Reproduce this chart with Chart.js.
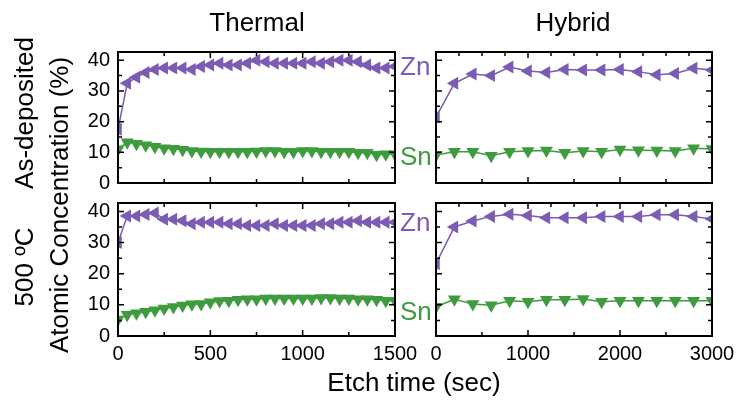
<!DOCTYPE html>
<html>
<head>
<meta charset="utf-8">
<script src="https://cdn.jsdelivr.net/npm/chart.js@4.4.1/dist/chart.umd.min.js"></script>
<style>
  body { margin: 0; background: #fff; }
  #wrap { position: relative; width: 738px; height: 404px; overflow: hidden; font-family: "Liberation Sans", Arial, Helvetica, sans-serif; color: #000; }
  canvas { position: absolute; }
  .lbl { position: absolute; font-size: 26px; line-height: 1; white-space: nowrap; transform: translate(-50%, -50%); }
  .rot { transform: translate(-50%, -50%) rotate(-90deg); }
  .tag { position: absolute; font-size: 26px; line-height: 1; white-space: nowrap; transform: translateY(-50%); }
</style>
</head>
<body>
<div id="wrap">
  <canvas id="thermalAs" width="365" height="186" style="left:70px;top:22px"></canvas>
  <canvas id="hybridAs" width="336" height="186" style="left:416px;top:22px"></canvas>
  <canvas id="thermal500" width="365" height="203" style="left:70px;top:173px"></canvas>
  <canvas id="hybrid500" width="336" height="203" style="left:416px;top:173px"></canvas>

  <div class="lbl" style="left:257px;top:22px">Thermal</div>
  <div class="lbl" style="left:573px;top:22px">Hybrid</div>
  <div class="lbl" style="left:414px;top:382px">Etch time (sec)</div>
  <div class="lbl rot" style="left:59px;top:205px">Atomic Concentration (%)</div>
  <div class="lbl rot" style="left:24px;top:113px">As-deposited</div>
  <div class="lbl rot" style="left:24px;top:267px">500 ºC</div>

  <div class="tag" style="left:400px;top:66px;color:#7b5bb3">Zn</div>
  <div class="tag" style="left:400px;top:156px;color:#3e9b3e">Sn</div>
  <div class="tag" style="left:400px;top:222px;color:#7b5bb3">Zn</div>
  <div class="tag" style="left:400px;top:311px;color:#3e9b3e">Sn</div>
</div>
<script>
// etch time (sec)
const thermalTime = [0, 50, 100, 150, 200, 250, 300, 350, 400, 450, 500, 550, 600, 650, 700, 750,
  800, 850, 900, 950, 1000, 1050, 1100, 1150, 1200, 1250, 1300, 1350, 1400, 1450, 1500];
const hybridTime = [0, 200, 400, 600, 800, 1000, 1200, 1400, 1600, 1800, 2000, 2200, 2400, 2600, 2800, 3000];

// atomic concentration (%)
const thermalAsZn = [17.5, 32.5, 34.5, 36, 37, 37.5, 37.5, 37.5, 37, 38, 38.5, 39, 38.5, 38.5, 39, 40,
  39.5, 39, 39, 39, 39, 39.5, 39, 39.5, 40, 40, 39.5, 38.5, 37.5, 37.5, 38];
const thermalAsSn = [11, 13.3, 12.8, 12.3, 11.8, 11.3, 11.2, 10.8, 10.4, 10.3, 10.2, 10.2, 10.2, 10.2, 10.2, 10.3,
  10.4, 10.4, 10.2, 10.2, 10.4, 10.4, 10.2, 10.2, 10.2, 10.2, 9.9, 9.9, 9.2, 9.4, 9.4];
const thermal500Zn = [30, 38.5, 38.5, 39, 39.5, 37.5, 37.5, 37, 36, 36.5, 36.5, 36.5, 36, 36, 35.5, 35.5,
  35.5, 36, 35.5, 35.5, 35.5, 35.5, 36, 36, 36.5, 36.5, 37, 36.5, 36.5, 36.5, 36.5];
const thermal500Sn = [5.3, 6.8, 7.3, 7.8, 8.3, 8.8, 9.3, 9.8, 10.2, 10.3, 10.8, 11.2, 11.3, 11.6, 11.8, 11.8,
  12, 12, 12, 12, 12, 12, 12.2, 12.2, 12, 12, 11.8, 11.8, 11.6, 11.3, 11.3];

const hybridAsZn = [21.5, 32.5, 35.5, 35, 37.8, 36.5, 36, 37, 36.8, 36.8, 37, 36.3, 35.3, 35.7, 37.4, 36.8];
const hybridAsSn = [9.1, 10.2, 10.2, 8.9, 10.2, 10.4, 10.6, 9.9, 10.4, 10.2, 10.9, 10.7, 10.6, 10.4, 11.3, 11.1];
const hybrid500Zn = [23.2, 35, 36.9, 38.4, 39.1, 38.7, 38, 38, 38, 38.4, 38.4, 38.4, 38.9, 38.9, 38.4, 37.6];
const hybrid500Sn = [9.4, 11.8, 10.3, 9.9, 11.3, 11, 11.6, 11.6, 11.9, 11, 11.3, 11.3, 11.3, 11.3, 11.3, 11.3];

// tick labels
const concTicks = [0, 10, 20, 30, 40];
const thermalTicks = [0, 500, 1000, 1500];
const hybridTicks = [0, 1000, 2000, 3000];

const purple = "#7b5bb3";
const green = "#3e9b3e";
const fontFamily = "'Liberation Sans', Arial, Helvetica, sans-serif";
Chart.defaults.font.family = fontFamily;

// box around the plot with inward ticks on every side
const frame = {
  id: "frame",
  afterDatasetsDraw(chart, args, opts) {
    const ctx = chart.ctx;
    const a = chart.chartArea;
    const x = chart.scales.x;
    const y = chart.scales.y;
    ctx.save();
    ctx.strokeStyle = "#000";
    ctx.lineWidth = 1.5;
    ctx.beginPath();
    for (let v = 0; v <= opts.xmax; v += opts.xStepTop) {
      const px = x.getPixelForValue(v);
      const len = v % opts.xMajor === 0 ? 6 : 4;
      ctx.moveTo(px, a.top);
      ctx.lineTo(px, a.top + len);
    }
    for (let v = 0; v <= opts.xmax; v += opts.xStepBottom) {
      const px = x.getPixelForValue(v);
      const len = v % opts.xMajor === 0 ? 6 : 4;
      ctx.moveTo(px, a.bottom);
      ctx.lineTo(px, a.bottom - len);
    }
    for (let v = 0; v <= 40; v += 5) {
      const py = y.getPixelForValue(v);
      const len = v % 10 === 0 ? 6 : 4;
      ctx.moveTo(a.left, py);
      ctx.lineTo(a.left + len, py);
      ctx.moveTo(a.right, py);
      ctx.lineTo(a.right - len, py);
    }
    ctx.stroke();
    ctx.lineWidth = 2;
    ctx.strokeRect(a.left, a.top, a.right - a.left, a.bottom - a.top);
    ctx.restore();
  }
};

function series(time, vals) {
  return time.map((t, i) => ({ x: t, y: vals[i] }));
}

function makePanel(id, time, zn, sn, o) {
  new Chart(document.getElementById(id), {
    type: "line",
    data: {
      datasets: [
        {
          label: "Zn",
          data: series(time, zn),
          borderColor: purple,
          backgroundColor: purple,
          pointBackgroundColor: purple,
          pointBorderColor: purple,
          pointStyle: "triangle",
          pointRotation: -90,
          pointRadius: 7.5,
          pointBorderWidth: 0,
          borderWidth: 1.5,
          tension: 0
        },
        {
          label: "Sn",
          data: series(time, sn),
          borderColor: green,
          backgroundColor: green,
          pointBackgroundColor: green,
          pointBorderColor: green,
          pointStyle: "triangle",
          pointRotation: 180,
          pointRadius: 7.5,
          pointBorderWidth: 0,
          borderWidth: 1.5,
          tension: 0
        }
      ]
    },
    options: {
      responsive: false,
      animation: false,
      // generous padding so the plot box lands at a fixed spot in every panel
      layout: { padding: { top: 30, right: 40, bottom: 0, left: 0 } },
      plugins: {
        legend: { display: false },
        tooltip: { enabled: false },
        frame: { xmax: o.xmax, xMajor: o.xMajor, xStepTop: o.xStepTop, xStepBottom: o.xStepBottom }
      },
      scales: {
        x: {
          type: "linear",
          min: 0,
          max: o.xmax,
          afterBuildTicks: s => { s.ticks = o.xLabels.map(v => ({ value: v })); },
          afterFit: s => { s.height = o.xh; },
          grid: { display: false, drawTicks: false },
          border: { display: false },
          ticks: { display: o.showX, padding: 6, color: "#000", maxRotation: 0, font: { size: 20 }, callback: v => String(v) }
        },
        y: {
          min: 0,
          max: 42.7,
          afterBuildTicks: s => { s.ticks = concTicks.map(v => ({ value: v })); },
          afterFit: s => { s.width = o.yw; },
          grid: { display: false, drawTicks: false },
          border: { display: false },
          ticks: { display: o.showY, padding: 8, color: "#000", font: { size: 20 }, callback: v => String(v) }
        }
      }
    },
    plugins: [frame]
  });
}

makePanel("thermalAs", thermalTime, thermalAsZn, thermalAsSn,
  { xmax: 1500, xMajor: 500, xStepTop: 250, xStepBottom: 250, xLabels: thermalTicks, showX: false, showY: true, xh: 25, yw: 48 });
makePanel("hybridAs", hybridTime, hybridAsZn, hybridAsSn,
  { xmax: 3000, xMajor: 1000, xStepTop: 250, xStepBottom: 500, xLabels: hybridTicks, showX: false, showY: false, xh: 25, yw: 20 });
makePanel("thermal500", thermalTime, thermal500Zn, thermal500Sn,
  { xmax: 1500, xMajor: 500, xStepTop: 250, xStepBottom: 250, xLabels: thermalTicks, showX: true, showY: true, xh: 40, yw: 48 });
makePanel("hybrid500", hybridTime, hybrid500Zn, hybrid500Sn,
  { xmax: 3000, xMajor: 1000, xStepTop: 250, xStepBottom: 500, xLabels: hybridTicks, showX: true, showY: false, xh: 40, yw: 20 });
</script>
</body>
</html>
